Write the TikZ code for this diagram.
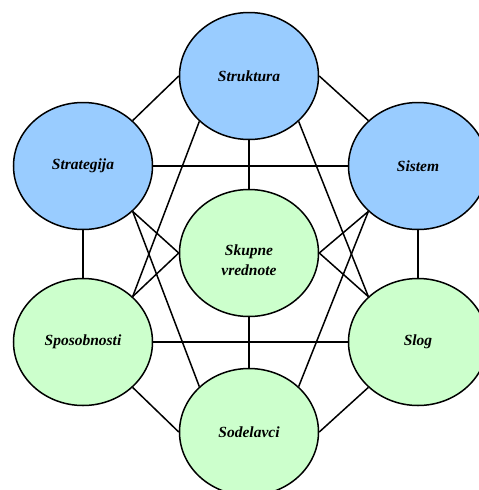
\documentclass[tikz,border=0pt]{standalone}
\usepackage{fontspec}
\setmainfont{Liberation Serif}
\usetikzlibrary{shapes.geometric}
\usetikzlibrary{positioning}
\definecolor{sblue}{RGB}{153,204,255}
\definecolor{sgreen}{RGB}{204,255,204}
\pgfmathsetmacro{\myrx}{139}
\pgfmathsetmacro{\myry}{127}
\newcommand{\selfont}{\fontsize{15.5}{20}\selectfont\bfseries\itshape}
\tikzset{
    sel/.style={ellipse, draw, line width=1.5pt, minimum width=\myrx, minimum height=\myry,
        inner sep=0pt, align=center, font=\selfont},
    hard/.style={sel, fill=sblue},
    soft/.style={sel, fill=sgreen},
    link/.style={line width=1.5pt}
}

\begin{document}
\begin{tikzpicture}[x=1pt, y=-1pt]
\clip (0,0) rectangle (479,490);

\node[hard] (struktura) at (249,76) {Struktura};
\node[hard] (strategija) at (83,166) {Strategija};
\node[hard] (sistem) at (418,166) {Sistem};
\node[soft, label={[yshift=-7pt, align=center, font=\selfont]center:Skupne\\vrednote}] (vrednote) at (249,253) {};
\node[soft] (sposobnosti) at (83,342) {Sposobnosti};
\node[soft] (slog) at (418,342) {Slog};
\node[soft] (sodelavci) at (249,432) {Sodelavci};

% trdi elementi
\draw[link] (struktura.west) -- (strategija.north east);
\draw[link] (struktura.east) -- (sistem.north west);
\draw[link] (struktura.south) -- (vrednote.north);
\draw[link] (struktura.south west) -- (sposobnosti.north east);
\draw[link] (struktura.south east) -- (slog.north west);
\draw[link] (strategija.east) -- (sistem.west);
\draw[link] (strategija.south) -- (sposobnosti.north);
\draw[link] (strategija.south east) -- (vrednote.west);
\draw[link] (strategija.south east) -- (sodelavci.north west);
\draw[link] (sistem.south) -- (slog.north);
\draw[link] (sistem.south west) -- (vrednote.east);
\draw[link] (sistem.south west) -- (sodelavci.north east);
% mehki elementi
\draw[link] (vrednote.west) -- (sposobnosti.north east);
\draw[link] (vrednote.east) -- (slog.north west);
\draw[link] (vrednote.south) -- (sodelavci.north);
\draw[link] (sposobnosti.east) -- (slog.west);
\draw[link] (sposobnosti.south east) -- (sodelavci.west);
\draw[link] (slog.south west) -- (sodelavci.east);
\end{tikzpicture}
\end{document}
